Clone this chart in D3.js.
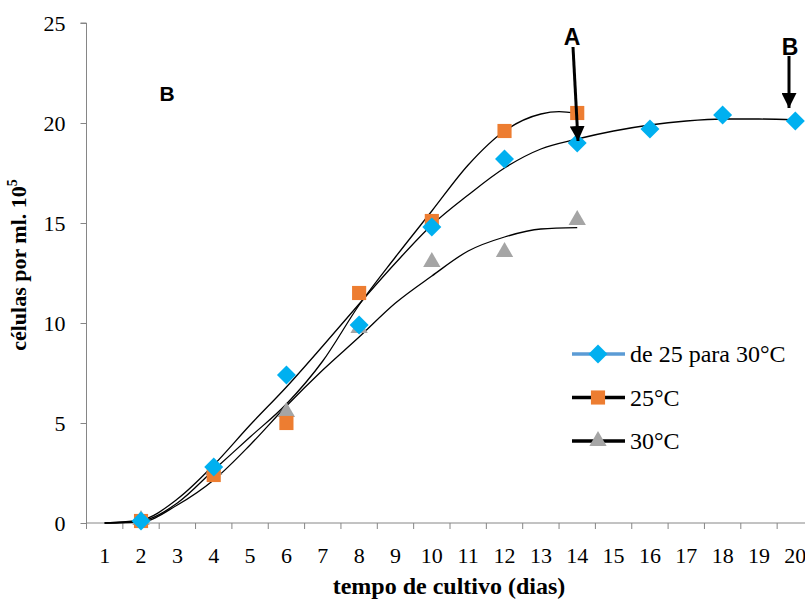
<!DOCTYPE html>
<html>
<head>
<meta charset="utf-8">
<script src="https://cdn.jsdelivr.net/npm/d3@7"></script>
<style>
  body { margin: 0; background: #fff; }
</style>
</head>
<body>
<div id="chart"></div>
<script>
// categories on the x axis (days)
const days = d3.range(1, 21);
const yTicks = [0, 5, 10, 15, 20, 25];

// series values
const shiftDays = [2, 4, 6, 8, 10, 12, 14, 16, 18, 20];
const shiftVals = [0.1, 2.8, 7.4, 9.9, 14.8, 18.2, 19.0, 19.7, 20.4, 20.1];
const t25Days = [2, 4, 6, 8, 10, 12, 14];
const t25Vals = [0.1, 2.4, 5.0, 11.5, 15.1, 19.6, 20.5];
const t30Days = [2, 4, 6, 8, 10, 12, 14];
const t30Vals = [0.1, 2.6, 5.5, 9.7, 13.0, 13.5, 15.1];

// fitted curves as drawn in the picture (value at each day)
const shiftCurveDays = d3.range(1, 21);
const shiftCurve = [0, 0.15, 1.2, 2.9, 4.9, 6.8, 8.85, 10.95, 13.0, 14.9, 16.4, 17.75, 18.7, 19.2, 19.6, 19.9, 20.1, 20.2, 20.2, 20.15];
const t25CurveDays = [1, 2, 3, 4, 5, 6, 7, 8, 9, 10, 11, 12, 13, 13.5, 14];
const t25Curve = [0, 0.1, 1.0, 2.65, 4.3, 5.95, 8.1, 10.9, 13.3, 15.6, 17.9, 19.6, 20.45, 20.57, 20.48];
const t30CurveDays = d3.range(1, 15);
const t30Curve = [0, 0.05, 0.9, 2.15, 3.9, 5.85, 7.65, 9.3, 11.0, 12.35, 13.6, 14.3, 14.7, 14.77];

const seriesNames = ["de 25 para 30°C", "25°C", "30°C"];

const serif = "Liberation Serif";
const sans = "Liberation Sans";

// Set dimensions
const width = 805;
const height = 602;

const svg = d3.select("#chart")
    .append("svg")
    .attr("width", width)
    .attr("height", height);

// category axis: each day takes a band, points sit in the middle
const x = d3.scaleBand()
    .domain(days)
    .range([86.5, 86.5 + 20 * 36.35]);
const xc = d => x(d) + x.bandwidth() / 2;
// continuous position for the curves (day 1 = middle of first band)
const xDay = d3.scaleLinear()
    .domain([1, 20])
    .range([xc(1), xc(20)]);

const y = d3.scaleLinear()
    .domain([0, 25])
    .range([523, 23]);

// axes
const xAxis = svg.append("g")
    .attr("transform", `translate(0, ${y(0)})`)
    .call(d3.axisBottom(x).tickSize(0).tickFormat(d => d));
xAxis.select(".domain").attr("stroke", "#868686").attr("d", `M86.5,0H805`);
xAxis.selectAll("text")
    .attr("dy", null).attr("y", 40)
    .style("font-family", serif).style("font-size", "22px").attr("fill", "#000");

// tick marks between the categories
svg.append("g")
    .selectAll("line")
    .data(days)
    .enter()
    .append("line")
    .attr("x1", d => x(d))
    .attr("x2", d => x(d))
    .attr("y1", y(0))
    .attr("y2", y(0) + 6)
    .attr("stroke", "#868686");

const yAxis = svg.append("g")
    .attr("transform", "translate(86.5, 0)")
    .call(d3.axisLeft(y).tickValues(yTicks).tickSize(6).tickPadding(15));
yAxis.select(".domain").attr("stroke", "#868686").attr("d", `M-6,${y(25)}H0V${y(0)}`);
yAxis.selectAll(".tick line").attr("stroke", "#868686");
yAxis.selectAll("text")
    .attr("dy", "0.35em")
    .style("font-family", serif).style("font-size", "22px").attr("fill", "#000");

// axis titles
svg.append("text")
    .attr("x", 449)
    .attr("y", 594)
    .attr("text-anchor", "middle")
    .style("font-family", serif).style("font-size", "24px").style("font-weight", "bold")
    .text("tempo de cultivo (dias)");

const yTitle = svg.append("text")
    .attr("transform", "translate(26, 265) rotate(-90)")
    .attr("text-anchor", "middle")
    .style("font-family", serif).style("font-size", "22px").style("font-weight", "bold");
yTitle.append("tspan").text("células por ml. 10");
yTitle.append("tspan").attr("dy", -9).style("font-size", "14px").text("5");

// curves
const curves = [
    [shiftCurveDays, shiftCurve],
    [t25CurveDays, t25Curve],
    [t30CurveDays, t30Curve]
];
const line = d3.line()
    .x(d => xDay(d[0]))
    .y(d => y(d[1]))
    .curve(d3.curveMonotoneX);
curves.forEach(([xs, ys]) => {
    svg.append("path")
        .attr("d", line(xs.map((d, i) => [d, ys[i]])))
        .attr("fill", "none")
        .attr("stroke", "#000")
        .attr("stroke-width", 1.3);
});

// markers
const diamond = d3.symbol().type(d3.symbolSquare).size(180);
const square = d3.symbol().type(d3.symbolSquare).size(200);
const triangle = d3.symbol().type(d3.symbolTriangle).size(130);

svg.append("g")
    .selectAll("path")
    .data(t30Days.map((d, i) => [d, t30Vals[i]]))
    .enter()
    .append("path")
    .attr("d", triangle)
    .attr("transform", d => `translate(${xc(d[0])}, ${y(d[1]) - 1})`)
    .attr("fill", "#A5A5A5");

svg.append("g")
    .selectAll("path")
    .data(t25Days.map((d, i) => [d, t25Vals[i]]))
    .enter()
    .append("path")
    .attr("d", square)
    .attr("transform", d => `translate(${xc(d[0])}, ${y(d[1])})`)
    .attr("fill", "#ED7D31");

svg.append("g")
    .selectAll("path")
    .data(shiftDays.map((d, i) => [d, shiftVals[i]]))
    .enter()
    .append("path")
    .attr("d", diamond)
    .attr("transform", d => `translate(${xc(d[0])}, ${y(d[1])}) rotate(45)`)
    .attr("fill", "#00B0F0");

// legend
const legendRows = [
    { color: "#5B9BD5", marker: diamond, fill: "#00B0F0", rot: 45 },
    { color: "#000", marker: square, fill: "#ED7D31", rot: 0 },
    { color: "#000", marker: triangle, fill: "#A5A5A5", rot: 0 }
];
const legend = svg.append("g").attr("transform", "translate(572, 354)");
legendRows.forEach((r, i) => {
    const g = legend.append("g").attr("transform", `translate(0, ${i * 43.5})`);
    g.append("line")
        .attr("x1", 0).attr("x2", 53)
        .attr("stroke", r.color)
        .attr("stroke-width", 3.5);
    g.append("path")
        .attr("d", r.marker)
        .attr("transform", `translate(26, 0) rotate(${r.rot})`)
        .attr("fill", r.fill);
    g.append("text")
        .attr("x", 58)
        .attr("y", 8)
        .style("font-family", serif).style("font-size", "24px")
        .text(seriesNames[i]);
});

// annotations
svg.append("defs").append("marker")
    .attr("id", "head")
    .attr("viewBox", "0 0 10 10")
    .attr("refX", 10).attr("refY", 5)
    .attr("markerWidth", 5).attr("markerHeight", 5)
    .attr("markerUnits", "strokeWidth")
    .attr("orient", "auto")
    .append("path")
    .attr("d", "M0,0L10,5L0,10Z")
    .attr("fill", "#000");

const note = (tx, ty, label, size) => svg.append("text")
    .attr("x", tx).attr("y", ty)
    .attr("text-anchor", "middle")
    .style("font-family", sans).style("font-size", size + "px").style("font-weight", "bold")
    .text(label);

note(572, 45, "A", 23);
svg.append("line")
    .attr("x1", 573).attr("y1", 47).attr("x2", 578).attr("y2", 141)
    .attr("stroke", "#000").attr("stroke-width", 3)
    .attr("marker-end", "url(#head)");

note(790, 55, "B", 23);
svg.append("line")
    .attr("x1", 789).attr("y1", 56).attr("x2", 789).attr("y2", 108)
    .attr("stroke", "#000").attr("stroke-width", 3)
    .attr("marker-end", "url(#head)");

note(167, 101, "B", 21);
</script>
</body>
</html>
